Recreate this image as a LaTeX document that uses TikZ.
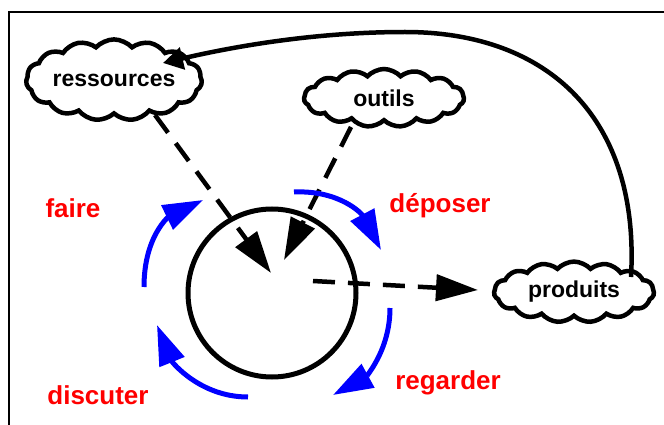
\documentclass[tikz,border=0pt]{standalone}
\usepackage{fontspec}
\setmainfont{Liberation Sans}
\usetikzlibrary{positioning,shapes.symbols,arrows.meta}

\begin{document}
\begin{tikzpicture}[x=1pt,y=-1pt,
				cloudbox/.style={cloud,draw,line width=4.5pt,cloud puffs=15,cloud puff arc=95,aspect=2.6,
					minimum width=160pt,minimum height=58pt,inner sep=0pt,font=\fontsize{23}{27}\selectfont\bfseries},
				action/.style={text=red,inner sep=0pt,font=\fontsize{26}{30}\selectfont\bfseries},
				flow/.style={line width=4.5pt,dash pattern=on 22pt off 13pt,-{Triangle[length=42pt,width=26pt]}},
				turn/.style={blue,line width=5pt,-{Triangle[length=40pt,width=26pt]}}]
				\useasboundingbox (0,0) rectangle (664,425);
				\draw[line width=2pt] (9,12) rectangle (700,460);
				
				\node (ressources) [cloudbox] at (114,80)  {ressources};
				\node (outils)     [cloudbox] at (384,98)  {outils};
				\node (produits)   [cloudbox] at (574,292) {produits\hspace{24pt}};
				\node (cycle)      [draw,circle,line width=5pt,minimum size=168pt] at (272,293) {};
				
				\node (faire)    [action] at (73,208)  {faire};
				\node (deposer)  [action] at (440,206) {déposer};
				\node (regarder) [action] at (448,383) {regarder};
				\node (discuter) [action] at (98,395)  {discuter};
				
				\coordinate (fromR) at (155,115);
				\coordinate (fromO) at (351,127);
				\coordinate (fromC) at (313,281);
				\coordinate (toR)   at (271,273);
				\coordinate (toO)   at (284,260);
				\coordinate (toP)   at (478,290);
				\coordinate (back)  at (631,277);
				
				\draw[flow] (fromR) -- (toR);
				\draw[flow] (fromO) -- (toO);
				\draw[flow] (fromC) -- (toP);
				\draw[line width=4.5pt,-{Triangle[length=20pt,width=22pt]}] (back)
					.. controls (640,120) and (550,32) .. (405,32)
					.. controls (320,32) and (240,45) .. (163,63);
				
				\draw[turn] (144,287) .. controls (144,235) and (170,216) .. (203,200);
				\draw[turn] (294,192) .. controls (340,190) and (362,214) .. (381,250);
				\draw[turn] (390,308) .. controls (390,352) and (364,378) .. (333,395);
				\draw[turn] (248,397) .. controls (200,397) and (172,362) .. (157,325);
			\end{tikzpicture}
\end{document}
